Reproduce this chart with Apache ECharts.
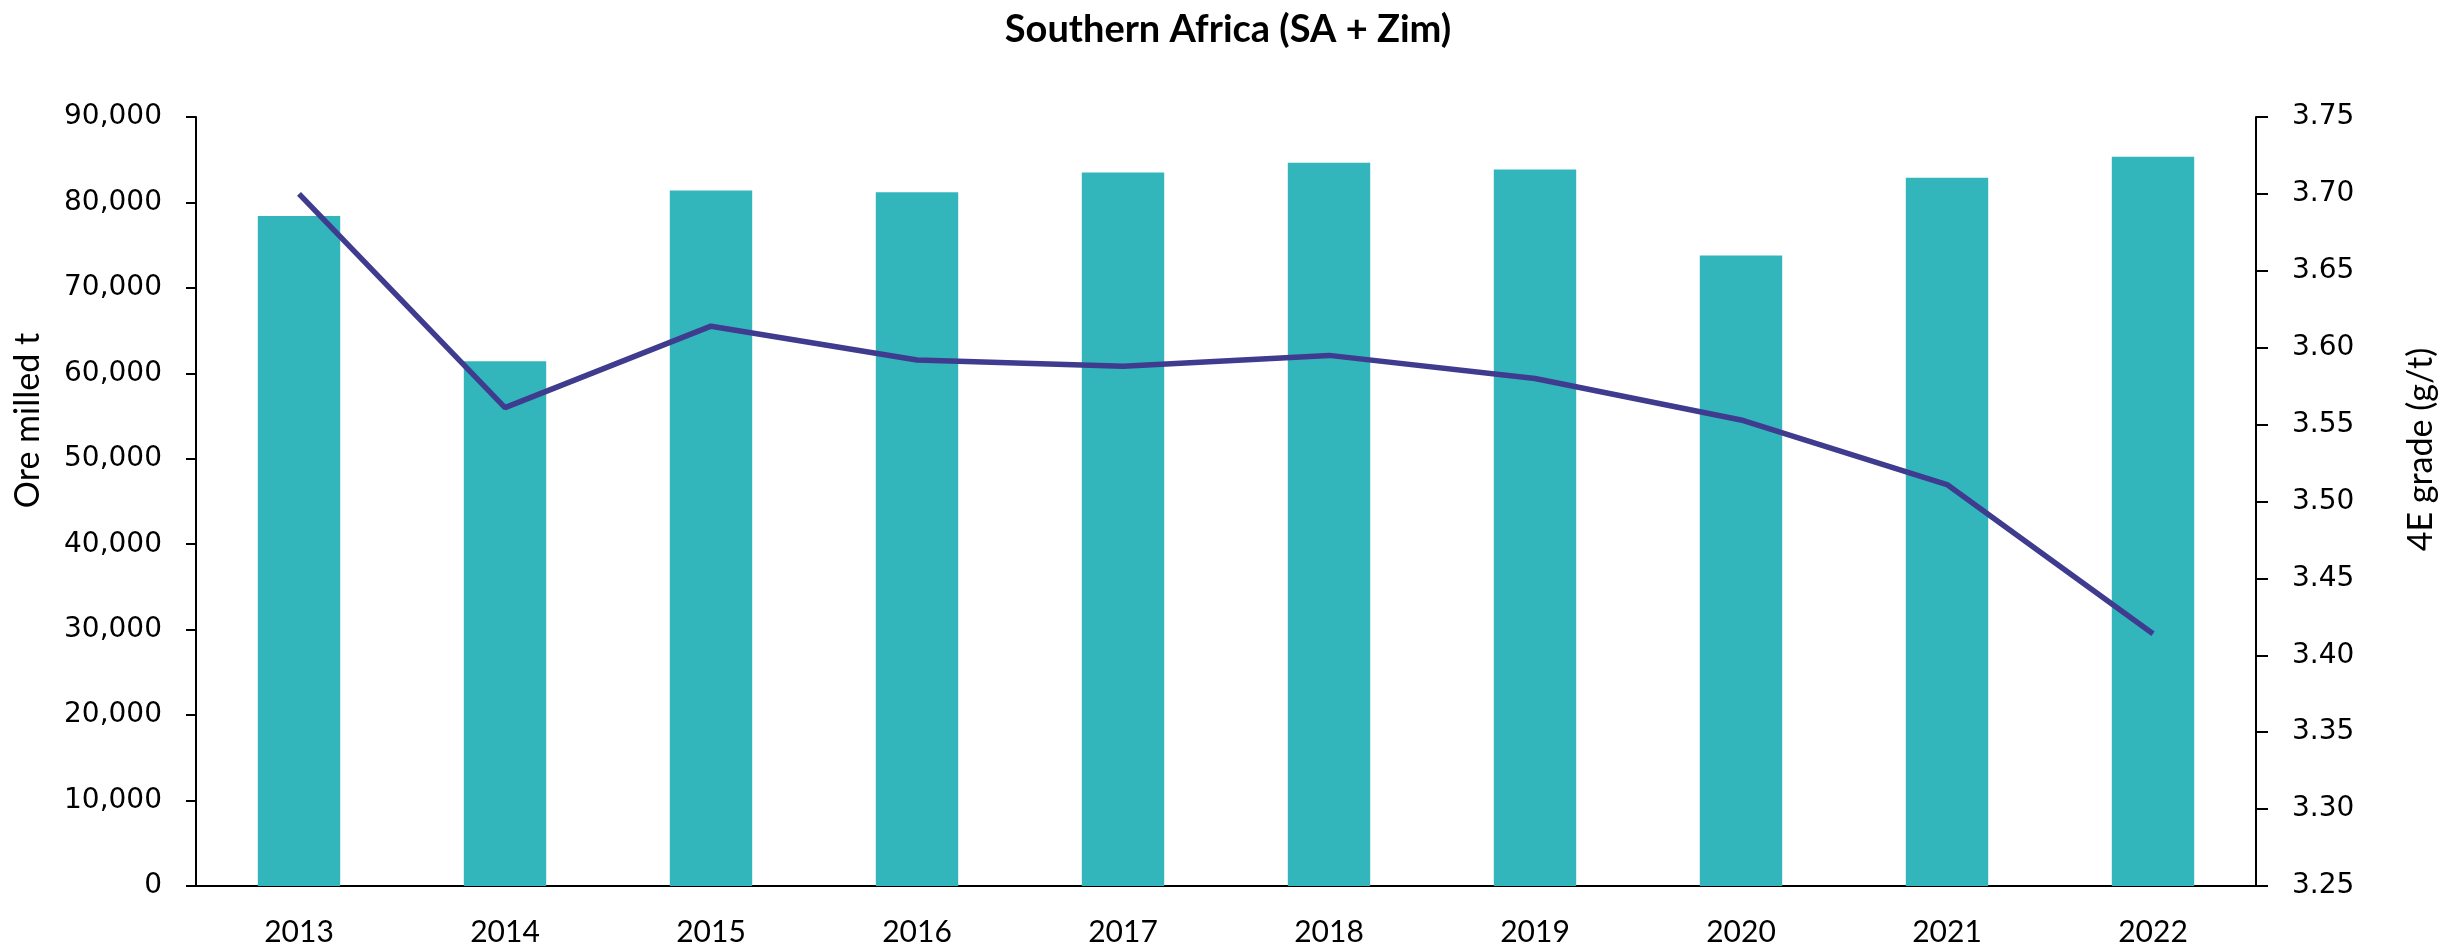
<!DOCTYPE html>
<html>
<head>
<meta charset="utf-8">
<script src="https://cdn.jsdelivr.net/npm/echarts@6/dist/echarts.min.js"></script>
<style>html,body{margin:0;padding:0;background:#fff}#c{width:2456px;height:949px}</style>
</head>
<body>
<div id="c"></div>
<script>
const years = ['2013','2014','2015','2016','2017','2018','2019','2020','2021','2022'];
const oreMilled = [78400, 61400, 81400, 81200, 83500, 84650, 83850, 73800, 82880, 85340];
const grade = [3.70, 3.561, 3.614, 3.592, 3.588, 3.595, 3.580, 3.553, 3.511, 3.414];
const leftTicks = {min: 0, max: 90000, interval: 10000};
const rightTicks = {min: 3.25, max: 3.75, interval: 0.05};

const chart = echarts.init(document.getElementById('c'));
const axisFont = 'DejaVu Sans';
const textFont = 'Lato';
chart.setOption({
  animation: false,
  title: {
    text: 'Southern Africa (SA + Zim)',
    left: 'center', top: 6,
    textStyle: {fontFamily: textFont, fontWeight: 'bold', fontSize: 38, color: '#000'}
  },
  grid: {left: 196, right: 200, top: 117, bottom: 63},
  xAxis: {
    type: 'category', data: years,
    axisLine: {lineStyle: {color: '#000', width: 2}},
    axisTick: {show: false},
    axisLabel: {fontFamily: textFont, fontSize: 30, color: '#000', margin: 31}
  },
  yAxis: [{
    type: 'value', min: leftTicks.min, max: leftTicks.max, interval: leftTicks.interval,
    name: 'Ore milled t', nameLocation: 'middle', nameGap: 151, nameRotate: 90,
    nameTextStyle: {fontFamily: textFont, fontSize: 34, color: '#000', padding: [0, 0, 0, 162]},
    axisLine: {show: true, lineStyle: {color: '#000', width: 2}},
    axisTick: {show: true, length: 10, lineStyle: {color: '#000', width: 2}},
    splitLine: {show: false},
    axisLabel: {fontFamily: axisFont, fontSize: 28, color: '#000', margin: 34,
      formatter: v => v.toLocaleString('en-US')}
  }, {
    type: 'value', min: rightTicks.min, max: rightTicks.max, interval: rightTicks.interval,
    position: 'right',
    name: '4E grade (g/t)', nameLocation: 'middle', nameGap: 148, nameRotate: 90,
    nameTextStyle: {fontFamily: textFont, fontSize: 34, color: '#000', padding: [0, 0, 0, 104]},
    axisLine: {show: true, lineStyle: {color: '#000', width: 2}},
    axisTick: {show: true, length: 12, lineStyle: {color: '#000', width: 2}},
    splitLine: {show: false},
    axisLabel: {fontFamily: axisFont, fontSize: 28, color: '#000', margin: 36,
      formatter: v => v.toFixed(2)}
  }],
  series: [{
    type: 'bar', data: oreMilled, yAxisIndex: 0, barWidth: '40%',
    itemStyle: {color: '#32B6BB'}
  }, {
    type: 'line', data: grade, yAxisIndex: 1, symbol: 'none',
    lineStyle: {color: '#3F3B8F', width: 5.5}
  }]
});
</script>
</body>
</html>
